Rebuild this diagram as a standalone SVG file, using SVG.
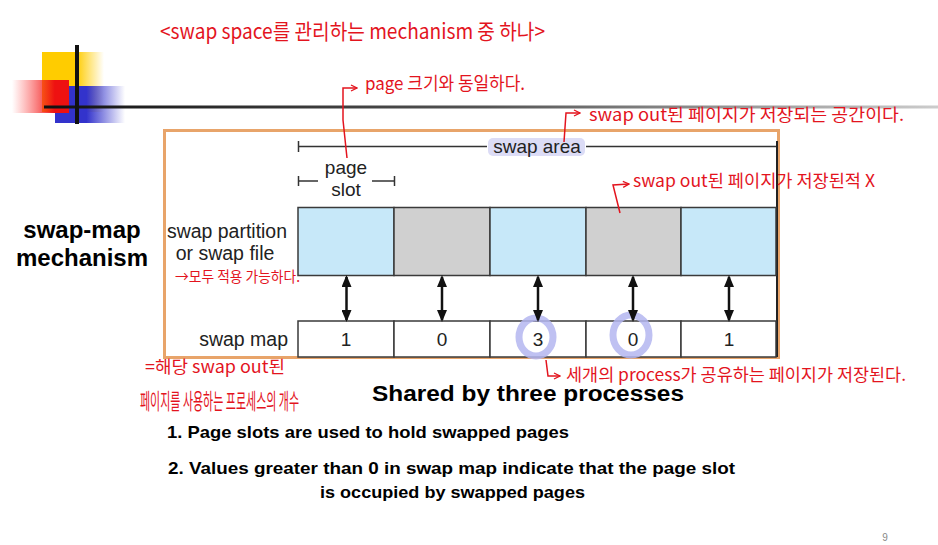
<svg xmlns="http://www.w3.org/2000/svg" width="938" height="545" viewBox="0 0 938 545">
<defs>
<style>
.lbl{font-family:"Liberation Sans",Arial,sans-serif;font-size:19.5px;fill:#222}
.num{font-family:"Liberation Sans",Arial,sans-serif;font-size:19px;fill:#222;text-anchor:middle}
.blue{fill:#c7e8f9;stroke:#3a3a3a;stroke-width:1.5}
.gray{fill:#d0d0d0;stroke:#3a3a3a;stroke-width:1.5}
.map{fill:#fff;stroke:#3a3a3a;stroke-width:1.5}
.dim{stroke:#333;stroke-width:1.5;fill:none}
.arr{stroke:#111;stroke-width:2.5;fill:none;marker-start:url(#ah);marker-end:url(#ah)}
.hw{font-family:"Noto Sans CJK KR",sans-serif;fill:#e3141e}
.red{stroke:#e3141e;stroke-width:1.5;fill:none;marker-end:url(#rh)}
.bold{font-family:"Liberation Sans",Arial,sans-serif;font-weight:bold;fill:#000}
.circ{fill:none;stroke:#b4b6f0;stroke-width:7;opacity:.85}
</style>
<marker id="ah" viewBox="0 0 12 10" refX="10" refY="5" markerWidth="12" markerHeight="10" markerUnits="userSpaceOnUse" orient="auto-start-reverse">
<path d="M0,0 L12,5 L0,10 z" fill="#111"/>
</marker>
<marker id="rh" viewBox="0 0 8 8" refX="7" refY="4" markerWidth="8" markerHeight="8" markerUnits="userSpaceOnUse" orient="auto">
<path d="M1,1 L7,4 L1,7" fill="none" stroke="#e3141e" stroke-width="1.3"/>
</marker>
<linearGradient id="gy" x1="0" y1="0" x2="1" y2="0">
<stop offset="0" stop-color="#ffcc00"/><stop offset="0.55" stop-color="#ffcc00"/><stop offset="1" stop-color="#ffcc00" stop-opacity="0"/>
</linearGradient>
<linearGradient id="gr" x1="0" y1="0" x2="1" y2="0">
<stop offset="0" stop-color="#ff3b3b" stop-opacity="0"/><stop offset="0.75" stop-color="#ee1111"/><stop offset="1" stop-color="#ee1111"/>
</linearGradient>
<linearGradient id="gb" x1="0" y1="0" x2="1" y2="0">
<stop offset="0" stop-color="#3333cc"/><stop offset="0.45" stop-color="#3333cc"/><stop offset="1" stop-color="#3333cc" stop-opacity="0"/>
</linearGradient>
<linearGradient id="gl" x1="0" y1="0" x2="1" y2="0">
<stop offset="0" stop-color="#111"/><stop offset="0.5" stop-color="#555"/><stop offset="1" stop-color="#ccc"/>
</linearGradient>
</defs>
<rect width="938" height="545" fill="#fff"/>

<g id="decoration">
<rect x="42" y="52" width="62" height="60" fill="url(#gy)"/>
<rect x="55" y="86" width="70" height="37" fill="url(#gb)"/>
<rect x="12" y="80" width="57" height="33" fill="url(#gr)"/>
<rect x="44" y="105.5" width="894" height="3" fill="url(#gl)"/>
<rect x="75" y="45" width="4" height="79" fill="#111"/>
</g>

<g id="frame">
<rect x="164.5" y="130.5" width="614" height="227" fill="#fff" stroke="#e8a46a" stroke-width="3"/>
</g>

<g id="swap-area">
<rect x="488" y="138" width="97" height="18" rx="5" fill="#dcdcf6"/>
<line class="dim" x1="298" y1="146.5" x2="487" y2="146.5"/>
<line class="dim" x1="586" y1="146.5" x2="776" y2="146.5"/>
<line class="dim" x1="298.5" y1="141" x2="298.5" y2="152"/>
<line x1="777" y1="141" x2="777" y2="357" stroke="#222" stroke-width="2"/>
<text class="num" x="537" y="153">swap area</text>
</g>

<g id="page-slot">
<line class="dim" x1="298" y1="181" x2="318" y2="181"/>
<line class="dim" x1="372" y1="181" x2="394" y2="181"/>
<line class="dim" x1="298.5" y1="176" x2="298.5" y2="186"/>
<line class="dim" x1="394.5" y1="176" x2="394.5" y2="186"/>
<text class="num" x="346" y="174">page</text>
<text class="num" x="346" y="196">slot</text>
</g>

<g id="swap-partition">
<text class="lbl" x="227" y="238" text-anchor="middle" textLength="120" lengthAdjust="spacingAndGlyphs">swap partition</text>
<text class="lbl" x="225" y="260" text-anchor="middle">or swap file</text>
<rect class="blue" x="298" y="207.5" width="96" height="68"/>
<rect class="gray" x="394" y="207.5" width="96" height="68"/>
<rect class="blue" x="490" y="207.5" width="96" height="68"/>
<rect class="gray" x="586" y="207.5" width="95" height="68"/>
<rect class="blue" x="681" y="207.5" width="95" height="68"/>
</g>

<g id="swap-map">
<text class="lbl" x="288" y="346" text-anchor="end">swap map</text>
<rect class="map" x="298" y="321" width="96" height="36"/>
<rect class="map" x="394" y="321" width="96" height="36"/>
<rect class="map" x="490" y="321" width="96" height="36"/>
<rect class="map" x="586" y="321" width="95" height="36"/>
<rect class="map" x="681" y="321" width="95" height="36"/>
<ellipse class="circ" cx="536" cy="337" rx="17" ry="19"/>
<ellipse class="circ" cx="631" cy="335" rx="18" ry="20"/>
<text class="num" x="346" y="346">1</text>
<text class="num" x="442" y="346">0</text>
<text class="num" x="538" y="346">3</text>
<text class="num" x="633" y="346">0</text>
<text class="num" x="729" y="346">1</text>
</g>

<g id="connectors">
<line class="arr" x1="346.5" y1="277" x2="346.5" y2="320"/>
<line class="arr" x1="442" y1="277" x2="442" y2="320"/>
<line class="arr" x1="538" y1="277" x2="538" y2="320"/>
<line class="arr" x1="633" y1="277" x2="633" y2="320"/>
<line class="arr" x1="729" y1="277" x2="729" y2="320"/>
</g>

<g id="titles">
<text class="bold" x="82" y="238" font-size="24" text-anchor="middle">swap-map</text>
<text class="bold" x="82" y="266" font-size="24" text-anchor="middle">mechanism</text>
<text class="bold" x="372" y="401" font-size="22" textLength="312" lengthAdjust="spacingAndGlyphs">Shared by three processes</text>
<text class="bold" x="167" y="438" font-size="17" textLength="402" lengthAdjust="spacingAndGlyphs">1. Page slots are used to hold swapped pages</text>
<text class="bold" x="168" y="474" font-size="17" textLength="567" lengthAdjust="spacingAndGlyphs">2. Values greater than 0 in swap map indicate that the page slot</text>
<text class="bold" x="320" y="498" font-size="17" textLength="265" lengthAdjust="spacingAndGlyphs">is occupied by swapped pages</text>
<text x="885" y="541" font-family="Liberation Sans, Arial, sans-serif" font-size="10" fill="#888" text-anchor="middle">9</text>
</g>

<g id="annotations">
<text class="hw" x="160" y="39" style="font-size:21px" textLength="385" lengthAdjust="spacingAndGlyphs">&lt;swap space를 관리하는 mechanism 중 하나&gt;</text>
<path class="red" d="M347,158 L343,120 L343,88 L357,88"/>
<text class="hw" x="365" y="90" style="font-size:18px" textLength="160" lengthAdjust="spacingAndGlyphs">page 크기와 동일하다.</text>
<path class="red" d="M564,142 L566,113 L580,113"/>
<text class="hw" x="589" y="121" style="font-size:17px" textLength="315" lengthAdjust="spacingAndGlyphs">swap out된 페이지가 저장되는 공간이다.</text>
<path class="red" d="M620,213 L613,185 L629,184"/>
<text class="hw" x="633" y="187" style="font-size:17px" textLength="242" lengthAdjust="spacingAndGlyphs">swap out된 페이지가 저장된적 X</text>
<text class="hw" x="175" y="282" style="font-size:15px" textLength="125" lengthAdjust="spacingAndGlyphs">→모두 적용 가능하다.</text>
<text class="hw" x="145" y="373" style="font-size:17px" textLength="140" lengthAdjust="spacingAndGlyphs">=해당 swap out된</text>
<text class="hw" transform="translate(140,409) scale(0.5,1)" x="0" y="0" style="font-size:22px">페이지를 사용하는 프로세스의 개수</text>
<path class="red" d="M546,360 L548,376 L560,376"/>
<text class="hw" x="566" y="381" style="font-size:17px" textLength="340" lengthAdjust="spacingAndGlyphs">세개의 process가  공유하는  페이지가 저장된다.</text>
</g>
</svg>
